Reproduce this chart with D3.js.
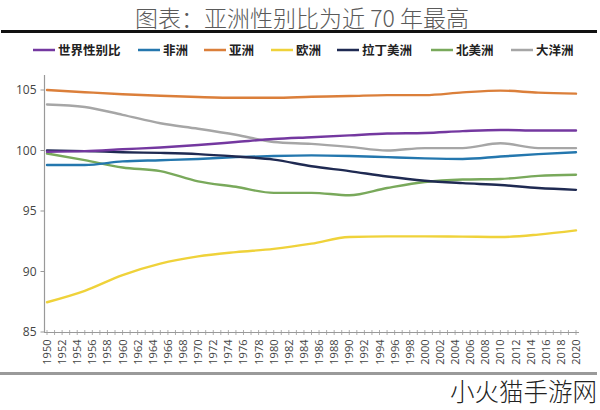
<!DOCTYPE html>
<html><head><meta charset="utf-8">
<script src="https://cdn.jsdelivr.net/npm/d3@7/dist/d3.min.js"></script>
<style>
html,body{margin:0;padding:0;background:#fff;}
svg{display:block;}
</style></head>
<body><svg id="c" width="600" height="410"></svg>
<script>
const title = "图表：亚洲性别比为近 70 年最高";
const watermark = "小火猫手游网";
const years = [1950,1955,1960,1965,1970,1975,1980,1985,1990,1995,2000,2005,2010,2015,2020];
const seriesNames = ["世界性别比","非洲","亚洲","欧洲","拉丁美洲","北美洲","大洋洲"];
const seriesColors = ["#7438A0","#2477AE","#DB7F3A","#EFD23A","#1F2A52","#79A95B","#A6A6A6"];
const world    = [99.9,99.95,100.1,100.25,100.45,100.7,100.95,101.1,101.25,101.4,101.45,101.6,101.7,101.65,101.65];
const africa   = [98.8,98.8,99.1,99.2,99.3,99.45,99.55,99.6,99.55,99.45,99.35,99.3,99.5,99.7,99.86];
const asia     = [105.0,104.82,104.65,104.52,104.42,104.36,104.36,104.44,104.5,104.58,104.58,104.8,104.95,104.78,104.7];
const europe   = [87.46,88.4,89.7,90.65,91.25,91.6,91.87,92.3,92.85,92.9,92.9,92.88,92.85,93.05,93.4];
const latam    = [100.0,99.95,99.86,99.8,99.7,99.5,99.25,98.7,98.3,97.85,97.5,97.3,97.15,96.9,96.75];
const namerica = [99.75,99.2,98.6,98.3,97.45,97.0,96.5,96.5,96.3,96.9,97.4,97.6,97.65,97.9,98.0];
const oceania  = [103.8,103.6,102.95,102.25,101.8,101.3,100.7,100.55,100.3,100.0,100.2,100.2,100.6,100.2,100.2];
const seriesValues = [world, africa, asia, europe, latam, namerica, oceania];
const yTicks = [85,90,95,100,105];
const xLabelYears = d3.range(1950, 2021, 2);
const xMinorYears = d3.range(1950, 2021, 1);

const svg = d3.select("#c");
const cjk = "'Noto Sans CJK SC','Noto Sans',sans-serif";

// title
svg.append("text").attr("x",302).attr("y",27).attr("text-anchor","middle")
  .attr("font-family",cjk).attr("font-weight",300).attr("font-size",23)
  .attr("fill","#5a5a5a").text(title);
svg.append("line").attr("x1",1).attr("x2",597).attr("y1",31.5).attr("y2",31.5)
  .attr("stroke","#111").attr("stroke-width",3);

// legend
const legendX = [33,138,204,271,337,431,511];
const lg = svg.append("g");
seriesNames.forEach((n,i)=>{
  const g = lg.append("g").attr("transform",`translate(${legendX[i]},50)`);
  g.append("line").attr("x1",0).attr("x2",22).attr("y1",0).attr("y2",0)
    .attr("stroke",seriesColors[i]).attr("stroke-width",2.5);
  g.append("text").attr("x",25).attr("y",5).attr("font-family",cjk)
    .attr("font-weight",700).attr("font-size",12.5).attr("fill","#222").text(n);
});

// scales
const x = d3.scaleLinear().domain([1950,2020]).range([47,576]);
const y = d3.scaleLinear().domain([85,105]).range([332,90]);
const yTop = y(106.25);

// y axis
const ya = svg.append("g").attr("transform","translate(44.5,0)");
ya.append("line").attr("x1",0).attr("x2",0).attr("y1",yTop).attr("y2",y(85)).attr("stroke","#999").attr("stroke-width",1.2);
ya.selectAll("line.t").data(yTicks).join("line").attr("class","t")
  .attr("x1",-4).attr("x2",0).attr("y1",d=>y(d)).attr("y2",d=>y(d)).attr("stroke","#999");
ya.selectAll("text").data(yTicks).join("text")
  .attr("x",-8).attr("y",d=>y(d)+4).attr("text-anchor","end")
  .attr("font-family","'Open Sans',sans-serif").attr("font-size",12).attr("fill","#444").text(d=>d);

// x axis
const xa = svg.append("g").attr("transform",`translate(0,${y(85)+0.5})`);
xa.append("line").attr("x1",44).attr("x2",579).attr("y1",0).attr("y2",0).attr("stroke","#999").attr("stroke-width",1.2);
xa.selectAll("line.t").data(xMinorYears).join("line").attr("class","t")
  .attr("x1",d=>x(d)).attr("x2",d=>x(d)).attr("y1",-2.5).attr("y2",2.5).attr("stroke","#999").attr("stroke-width",0.8);
xa.selectAll("text").data(xLabelYears).join("text")
  .attr("transform",d=>`translate(${x(d)+4},7) rotate(-90)`)
  .attr("text-anchor","end")
  .attr("font-family","'Open Sans',sans-serif").attr("font-size",11).attr("fill","#444").text(d=>d);

// lines
const line = d3.line().x((d,i)=>x(years[i])).y(d=>y(d)).curve(d3.curveMonotoneX);
const order = [3,6,5,1,4,0,2];
order.forEach(i=>{
  svg.append("path").datum(seriesValues[i]).attr("d",line)
    .attr("fill","none").attr("stroke",seriesColors[i]).attr("stroke-width",2.4)
    .attr("stroke-linejoin","round").attr("stroke-linecap","round");
});

// bottom rule and watermark
svg.append("line").attr("x1",0).attr("x2",597).attr("y1",373.5).attr("y2",373.5)
  .attr("stroke","#9a9a9a").attr("stroke-width",3);
svg.append("text").attr("x",597).attr("y",401).attr("text-anchor","end")
  .attr("font-family",cjk).attr("font-weight",300).attr("font-size",24.5)
  .attr("fill","#222").text(watermark);
</script>
</body></html>
